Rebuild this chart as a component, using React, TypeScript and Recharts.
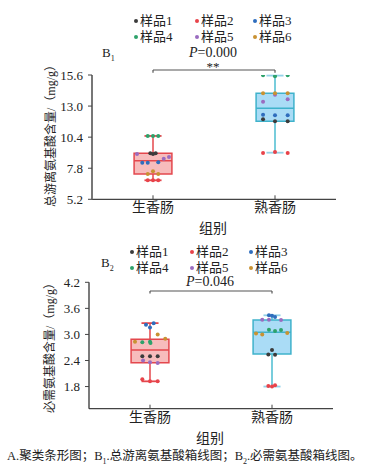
import React from "react"
import {
    ComposedChart,
    XAxis,
    YAxis,
    Scatter,
    ReferenceArea,
    ReferenceLine,
} from "recharts"

// groups and samples
const groups = ["生香肠", "熟香肠"]
const sampleNames = ["样品1", "样品2", "样品3", "样品4", "样品5", "样品6"]
const sampleColors = ["#3b3b3b", "#e8434a", "#2f6dbd", "#2ea26b", "#9a6cc0", "#c99232"]

// total free amino acids (mg/g): per sample -> [group1 reps, group2 reps]
const totalValues = [
    [[9.05, 9.0, 9.05], [11.89, 11.73, 11.73]],
    [[6.79, 6.79, 6.79], [9.07, 9.16, 9.07]],
    [[8.26, 8.26, 8.3], [12.28, 12.23, 12.23]],
    [[10.5, 10.5, 10.5], [15.58, 15.49, 15.58]],
    [[9.0, 8.6, 8.74], [13.37, 13.95, 13.57]],
    [[7.32, 7.54, 7.32], [14.07, 14.07, 14.07]],
]
const totalJitter = [
    [[-0.022, 0, 0.022], [-0.098, 0, 0.104]],
    [[-0.043, 0, 0.043], [-0.098, 0, 0.104]],
    [[-0.088, -0.043, 0.043], [-0.098, 0, 0.104]],
    [[-0.043, 0, 0.043], [-0.098, 0, 0.104]],
    [[-0.131, 0.088, 0.131], [-0.098, 0, 0.104]],
    [[-0.043, 0, 0.043], [-0.098, 0, 0.104]],
]
// [min, q1, median, q3, max]
const totalBoxes = [
    [6.79, 7.32, 8.43, 9.05, 10.5],
    [9.1, 11.73, 12.81, 14.07, 15.55],
]
const totalTicks = [5.2, 7.8, 10.4, 13.0, 15.6]

// essential amino acids (mg/g)
const essentialValues = [
    [[2.5, 2.5, 2.5], [2.54, 2.64, 2.53]],
    [[1.97, 1.92, 1.92], [1.81, 1.8, 1.83]],
    [[3.22, 3.16, 3.26], [3.44, 3.43, 3.4]],
    [[2.82, 2.83, 2.8], [3.11, 3.08, 3.1]],
    [[2.4, 2.36, 2.34], [3.34, 3.34, 3.33]],
    [[2.83, 3.0, 2.9], [3.02, 3.0, 3.03]],
]
const essentialJitter = [
    [[-0.063, 0, 0.063], [-0.03, 0, 0.025]],
    [[-0.063, 0, 0.063], [-0.03, 0, 0.025]],
    [[-0.033, 0, 0.03], [-0.025, 0, 0.025]],
    [[-0.063, 0, 0.004], [-0.025, 0.025, 0.074]],
    [[-0.057, 0, 0.063], [-0.08, -0.025, 0.074]],
    [[-0.123, 0.063, 0.125], [-0.131, -0.08, 0.125]],
]
const essentialBoxes = [
    [1.92, 2.35, 2.64, 2.89, 3.26],
    [1.8, 2.55, 3.05, 3.33, 3.44],
]
const essentialTicks = [1.8, 2.4, 3.0, 3.6, 4.2]

const boxFill = ["#f7bcbc", "#aadcf6"]
const boxStroke = ["#e4474d", "#3fb2cb"]
const whiskerColor = ["#e4474d", "#4bbcd1"]
const capColor = ["#e4474d", "#93d2e8"]

const FONT = "'Liberation Serif', 'Noto Sans CJK SC', serif"
const BOX_HALF = 0.155
const CAP_HALF = 0.07

function Dot(props: any) {
    const { cx, cy, fill } = props
    if (cx == null || cy == null) return null
    return <circle cx={cx} cy={cy} r={2} fill={fill} />
}

function buildPoints(values: number[][][], jitter: number[][][], s: number) {
    const pts: { x: number; y: number }[] = []
    values[s].forEach((reps, g) => {
        reps.forEach((v, i) => pts.push({ x: g + 1 + jitter[s][g][i], y: v }))
    })
    return pts
}

interface BoxChartProps {
    values: number[][][]
    jitter: number[][][]
    boxes: number[][]
    ticks: number[]
    domain: [number, number]
    height: number
    margin: { top: number; right: number; bottom: number; left: number }
    bracketY: number
    bracketEnd: number
    axisColor: string
    axisWidth: number
}

function BoxChart({ values, jitter, boxes, ticks, domain, height, margin, bracketY, bracketEnd, axisColor, axisWidth }: BoxChartProps) {
    return (
        <ComposedChart width={386} height={height} margin={margin}>
            <XAxis
                type="number"
                dataKey="x"
                domain={[0.5, 2.5]}
                ticks={[1, 2]}
                tickFormatter={(v) => groups[v - 1]}
                tickSize={-4}
                tickMargin={7}
                height={30}
                axisLine={{ stroke: "#444", strokeWidth: 1.3 }}
                tickLine={{ stroke: "#444" }}
                tick={{ fill: "#222", fontSize: 14, fontFamily: FONT }}
                allowDataOverflow
            />
            <YAxis
                type="number"
                dataKey="y"
                domain={domain}
                ticks={ticks}
                tickFormatter={(v) => v.toFixed(1)}
                width={40}
                tickSize={4}
                tickMargin={5}
                axisLine={{ stroke: axisColor, strokeWidth: axisWidth }}
                tickLine={{ stroke: "#444" }}
                tick={{ fill: "#222", fontSize: 13, fontFamily: FONT }}
                allowDataOverflow
            />
            {boxes.map((b, g) => (
                <ReferenceArea
                    key={`box-${g}`}
                    x1={g + 1 - BOX_HALF}
                    x2={g + 1 + BOX_HALF}
                    y1={b[1]}
                    y2={b[3]}
                    fill={boxFill[g]}
                    fillOpacity={1}
                    stroke={boxStroke[g]}
                    strokeWidth={1.5}
                    ifOverflow="visible"
                />
            ))}
            {boxes.map((b, g) => (
                <ReferenceLine
                    key={`med-${g}`}
                    segment={[{ x: g + 1 - BOX_HALF, y: b[2] }, { x: g + 1 + BOX_HALF, y: b[2] }]}
                    stroke={boxStroke[g]}
                    strokeWidth={1.5}
                    ifOverflow="visible"
                />
            ))}
            {boxes.map((b, g) => (
                <ReferenceLine
                    key={`wh-${g}`}
                    segment={[{ x: g + 1, y: b[3] }, { x: g + 1, y: b[4] }]}
                    stroke={whiskerColor[g]}
                    strokeWidth={1.5}
                    ifOverflow="visible"
                />
            ))}
            {boxes.map((b, g) => (
                <ReferenceLine
                    key={`wl-${g}`}
                    segment={[{ x: g + 1, y: b[1] }, { x: g + 1, y: b[0] }]}
                    stroke={whiskerColor[g]}
                    strokeWidth={1.5}
                    ifOverflow="visible"
                />
            ))}
            {boxes.map((b, g) => (
                <ReferenceLine
                    key={`ch-${g}`}
                    segment={[{ x: g + 1 - CAP_HALF, y: b[4] }, { x: g + 1 + CAP_HALF, y: b[4] }]}
                    stroke={capColor[g]}
                    strokeWidth={1.8}
                    ifOverflow="visible"
                />
            ))}
            {boxes.map((b, g) => (
                <ReferenceLine
                    key={`cl-${g}`}
                    segment={[{ x: g + 1 - CAP_HALF, y: b[0] }, { x: g + 1 + CAP_HALF, y: b[0] }]}
                    stroke={capColor[g]}
                    strokeWidth={1.8}
                    ifOverflow="visible"
                />
            ))}
            {/* significance bracket */}
            <ReferenceLine segment={[{ x: 1, y: bracketEnd }, { x: 1, y: bracketY }]} stroke="#555" strokeWidth={1.2} ifOverflow="visible" />
            <ReferenceLine segment={[{ x: 1, y: bracketY }, { x: 2, y: bracketY }]} stroke="#555" strokeWidth={1.2} ifOverflow="visible" />
            <ReferenceLine segment={[{ x: 2, y: bracketY }, { x: 2, y: bracketEnd }]} stroke="#555" strokeWidth={1.2} ifOverflow="visible" />
            {sampleNames.map((name, s) => (
                <Scatter
                    key={name}
                    name={name}
                    data={buildPoints(values, jitter, s)}
                    fill={sampleColors[s]}
                    shape={<Dot />}
                    isAnimationActive={false}
                />
            ))}
        </ComposedChart>
    )
}

function LegendBlock({ top, xs }: { top: number; xs: number[] }) {
    return (
        <>
            {sampleNames.map((name, s) => {
                const row = Math.floor(s / 3)
                const col = s % 3
                return (
                    <div
                        key={name}
                        style={{
                            position: "absolute",
                            left: xs[col] - 3,
                            top: top + row * 16 - 9,
                            height: 18,
                            lineHeight: "18px",
                            fontSize: 13,
                            color: "#222",
                            whiteSpace: "nowrap",
                            display: "flex",
                            alignItems: "center",
                        }}
                    >
                        <span style={{ display: "inline-block", width: 4, height: 4, borderRadius: 2, background: sampleColors[s], marginRight: 2 }} />
                        {name}
                    </div>
                )
            })}
        </>
    )
}

const abs = (left: number, top: number, extra: React.CSSProperties = {}): React.CSSProperties => ({
    position: "absolute",
    left,
    top,
    whiteSpace: "nowrap",
    ...extra,
})

export default function App() {
    return (
        <div style={{ position: "absolute", left: 0, top: 0, width: 386, height: 465, background: "#fff", fontFamily: FONT, color: "#222", overflow: "hidden" }}>
            {/* B1 chart */}
            <div style={abs(0, 0)}>
                <BoxChart
                    values={totalValues}
                    jitter={totalJitter}
                    boxes={totalBoxes}
                    ticks={totalTicks}
                    domain={[5.2, 15.6]}
                    height={240}
                    margin={{ top: 75, right: 50, bottom: 10.7, left: 52 }}
                    bracketY={16.02}
                    bracketEnd={15.78}
                    axisColor="#777"
                    axisWidth={2}
                />
            </div>
            <LegendBlock top={21} xs={[137, 198, 256]} />
            <div style={abs(102, 45, { fontSize: 13 })}>B<sub style={{ fontSize: 8 }}>1</sub></div>
            <div style={abs(163, 45, { width: 100, textAlign: "center", fontSize: 14 })}><i>P</i>=0.000</div>
            <div style={abs(163, 59, { width: 100, textAlign: "center", fontSize: 13 })}>**</div>
            <div style={abs(163, 217, { width: 100, textAlign: "center", fontSize: 14 })}>组别</div>
            <div style={abs(50, 133, { fontSize: 12, transform: "translate(-50%, -50%) rotate(-90deg)" })}>总游离氨基酸含量/（mg/g）</div>

            {/* B2 chart */}
            <div style={abs(0, 230)}>
                <BoxChart
                    values={essentialValues}
                    jitter={essentialJitter}
                    boxes={essentialBoxes}
                    ticks={essentialTicks}
                    domain={[1.29, 4.2]}
                    height={220}
                    margin={{ top: 52.3, right: 53, bottom: 11.3, left: 49 }}
                    bracketY={4.0}
                    bracketEnd={3.94}
                    axisColor="#333"
                    axisWidth={1.3}
                />
            </div>
            <LegendBlock top={252} xs={[133, 193, 252]} />
            <div style={abs(101, 255, { fontSize: 13 })}>B<sub style={{ fontSize: 8 }}>2</sub></div>
            <div style={abs(160, 274, { width: 100, textAlign: "center", fontSize: 14 })}><i>P</i>=0.046</div>
            <div style={abs(160, 427, { width: 100, textAlign: "center", fontSize: 14 })}>组别</div>
            <div style={abs(49, 345, { fontSize: 12, transform: "translate(-50%, -50%) rotate(-90deg)" })}>必需氨基酸含量/（mg/g）</div>

            <div style={abs(7, 445, { fontSize: 12.5 })}>
                A.聚类条形图；B<sub style={{ fontSize: 8 }}>1</sub>.总游离氨基酸箱线图；B<sub style={{ fontSize: 8 }}>2</sub>.必需氨基酸箱线图。
            </div>
        </div>
    )
}
